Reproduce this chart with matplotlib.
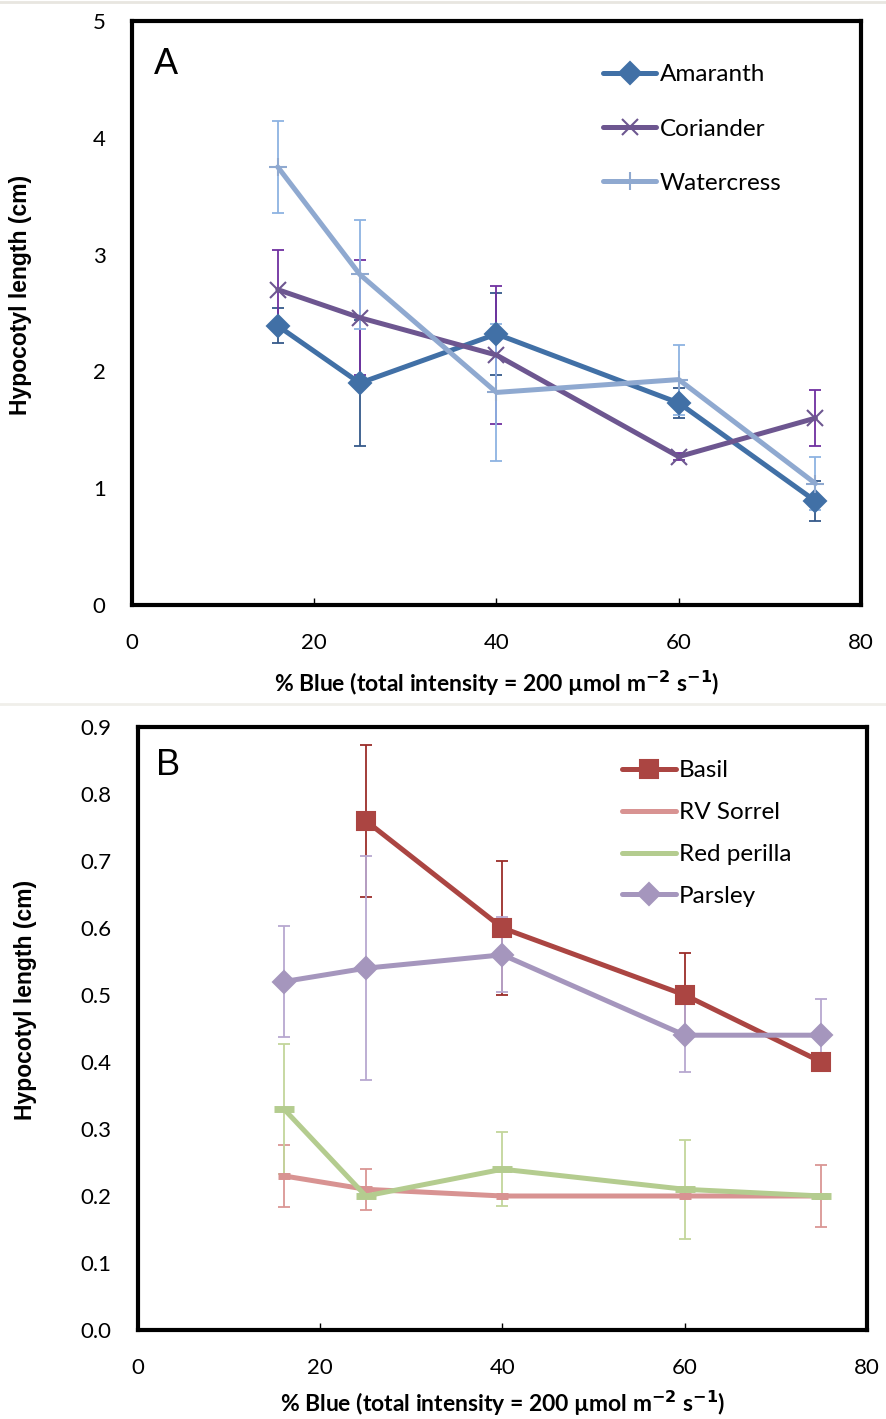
import matplotlib
matplotlib.use("Agg")
import matplotlib.pyplot as plt
from matplotlib.lines import Line2D

plt.rcParams['font.family'] = ['Lato', 'DejaVu Sans']

# ---------------- data ----------------
x_blue = [16, 25, 40, 60, 75]

amaranth = [2.39, 1.90, 2.32, 1.73, 0.89]
amaranth_err = [0.15, 0.54, 0.35, 0.13, 0.17]
coriander = [2.70, 2.46, 2.14, 1.27, 1.60]
coriander_err = [0.34, 0.49, 0.59, 0.03, 0.24]
watercress = [3.75, 2.83, 1.82, 1.93, 1.04]
watercress_err = [0.39, 0.47, 0.59, 0.30, 0.23]

x_basil = [25, 40, 60, 75]
basil = [0.76, 0.60, 0.50, 0.40]
basil_err = [0.113, 0.10, 0.063, 0.0]
rv_sorrel = [0.23, 0.21, 0.20, 0.20, 0.20]
rv_sorrel_err = [0.046, 0.031, 0.0, 0.0, 0.047]
red_perilla = [0.33, 0.20, 0.24, 0.21, 0.20]
red_perilla_err = [0.097, 0.0, 0.055, 0.074, 0.0]
parsley = [0.52, 0.54, 0.56, 0.44, 0.44]
parsley_err = [0.083, 0.167, 0.056, 0.055, 0.054]

xticks = [0, 20, 40, 60, 80]
yticks_a = [0, 1, 2, 3, 4, 5]
yticks_b = [0.0, 0.1, 0.2, 0.3, 0.4, 0.5, 0.6, 0.7, 0.8, 0.9]

xlabel = '% Blue (total intensity = 200 µmol m$^{\\mathbf{-2}}$ s$^{\\mathbf{-1}}$)'
ylabel = 'Hypocotyl length (cm)'

# ---------------- figure ----------------
W, H = 887, 1419
fig = plt.figure(figsize=(W / 100, H / 100), dpi=100)

def frac(l, r, t, b):
    return [l / W, 1 - b / H, (r - l) / W, (b - t) / H]

axA = fig.add_axes(frac(132, 861, 21, 605))
axB = fig.add_axes(frac(138, 867, 727, 1330))

fig.add_artist(Line2D([0, 1], [1 - 2 / H, 1 - 2 / H], color='#e8e6e0', lw=2, transform=fig.transFigure))
fig.add_artist(Line2D([0, 1], [1 - 704 / H, 1 - 704 / H], color='#f0efea', lw=2, transform=fig.transFigure))

lw = 3.6

def series(ax, x, y, e, color, ecolor, marker, ms, mew=1.5, label=None, legend_marker=True):
    ax.errorbar(x, y, yerr=e, fmt='none', ecolor=ecolor, elinewidth=1.3,
                capsize=4.5, capthick=1.3, zorder=2)
    ax.plot(x, y, color=color, lw=lw, marker=marker, ms=ms,
            mfc=color, mec=color, mew=mew, zorder=3, solid_capstyle='round')
    if legend_marker:
        return Line2D([], [], color=color, lw=lw, marker=marker, ms=ms, mfc=color,
                      mec=color, mew=mew, solid_capstyle='round', label=label)
    return Line2D([], [], color=color, lw=lw, solid_capstyle='round', label=label)

# Panel A
hA = [
    series(axA, x_blue, amaranth, amaranth_err, '#4170a6', '#35598a', 'D', 11, label='Amaranth'),
    series(axA, x_blue, coriander, coriander_err, '#6d5690', '#7030a0', 'x', 12, mew=1.5, label='Coriander'),
    series(axA, x_blue, watercress, watercress_err, '#8fa9d0', '#8db3e2', '+', 13, mew=1.5, label='Watercress'),
]

# Panel B
hB = [
    series(axB, x_basil, basil, basil_err, '#ab4542', '#9b2d2a', 's', 13.5, label='Basil'),
    series(axB, x_blue, rv_sorrel, rv_sorrel_err, '#d89392', '#da9694', '_', 9, mew=5,
           label='RV Sorrel', legend_marker=False),
    series(axB, x_blue, red_perilla, red_perilla_err, '#b4cc8f', '#c3d69b', '_', 14, mew=5,
           label='Red perilla', legend_marker=False),
    series(axB, x_blue, parsley, parsley_err, '#a596bd', '#b7a8d0', 'D', 11, label='Parsley'),
]

for ax, yt, ylim, fmt, ylx, yly, xly in [(axA, yticks_a, (0, 5), '{:.0f}', -0.137, 0.531, -0.110),
                                         (axB, yticks_b, (0, 0.9), '{:.1f}', -0.139, 0.547, -0.097)]:
    ax.set_xlim(0, 80)
    ax.set_ylim(*ylim)
    ax.set_xticks(xticks)
    ax.set_yticks(yt)
    ax.set_yticklabels([fmt.format(v) for v in yt])
    ax.tick_params(axis='x', direction='in', length=5, width=1, pad=20, labelsize=16)
    ax.tick_params(axis='y', length=0, pad=19, labelsize=16)
    for s in ax.spines.values():
        s.set_linewidth(3)
        s.set_color('black')
    ax.set_xlabel(xlabel, fontsize=16.5, fontweight='bold')
    ax.xaxis.set_label_coords(0.5, xly)
    ax.set_ylabel(ylabel, fontsize=16.5, fontweight='bold', family='Liberation Sans')
    ax.yaxis.set_label_coords(ylx, yly)

axA.text(0.03, 0.955, 'A', transform=axA.transAxes, fontsize=26, va='top',
         family='Liberation Sans')
axB.text(0.025, 0.965, 'B', transform=axB.transAxes, fontsize=26, va='top',
         family='Liberation Sans')

axA.legend(handles=hA, loc='upper left', bbox_to_anchor=(0.646, 0.926), frameon=False,
           fontsize=17.5, handlelength=2.2, handletextpad=0.15, labelspacing=1.37,
           borderaxespad=0, borderpad=0, numpoints=1)
axB.legend(handles=hB, loc='upper left', bbox_to_anchor=(0.664, 0.945), frameon=False,
           fontsize=17.5, handlelength=2.2, handletextpad=0.15, labelspacing=0.86,
           borderaxespad=0, borderpad=0, numpoints=1)

fig.savefig('out.png', dpi=100)
